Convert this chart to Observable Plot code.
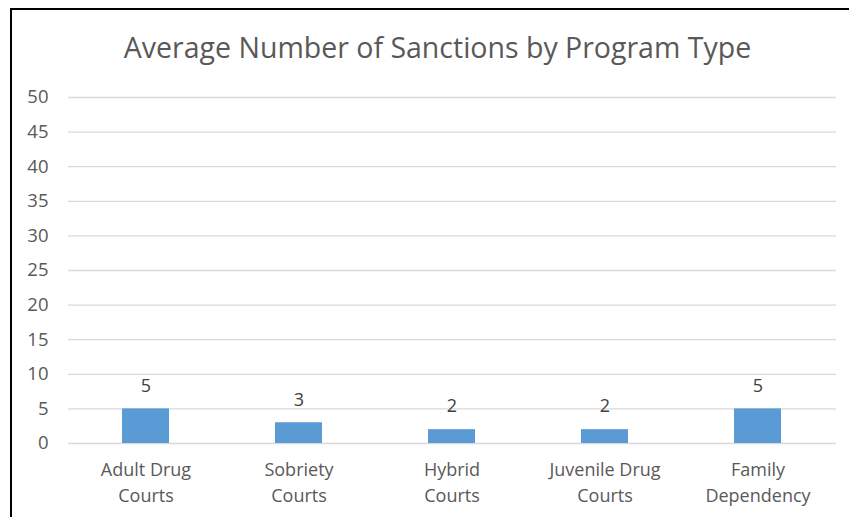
<!DOCTYPE html>
<html>
<head>
<meta charset="utf-8">
<script src="https://cdn.jsdelivr.net/npm/d3@7"></script>
<script src="https://cdn.jsdelivr.net/npm/@observablehq/plot@0.6"></script>
<style>
  html, body { margin: 0; padding: 0; background: #fff; }
  #wrap { position: relative; width: 849px; height: 517px; overflow: hidden; }
  #frame { position: absolute; left: 10px; top: 8px; width: 900px; height: 600px; border-left: 2.5px solid #000; border-top: 2.5px solid #000; box-sizing: border-box; }
  #title { position: absolute; left: 0; width: 875px; top: 28px; text-align: center; font-family: "Open Sans", sans-serif; font-size: 28.5px; color: #595959; line-height: 38px; }
  #chart { position: absolute; left: 0; top: 0; }
</style>
</head>
<body>
<div id="wrap">
  <div id="frame"></div>
  <div id="title">Average Number of Sanctions by Program Type</div>
  <div id="chart"></div>
</div>
<script>
const categories = ["Adult Drug Courts", "Sobriety Courts", "Hybrid Courts", "Juvenile Drug Courts", "Family Dependency"];
const tickLabels = ["Adult Drug\nCourts", "Sobriety\nCourts", "Hybrid\nCourts", "Juvenile Drug\nCourts", "Family\nDependency"];
const values = [5, 3, 2, 2, 5];
const yTicks = [0, 5, 10, 15, 20, 25, 30, 35, 40, 45, 50];

const data = categories.map((c, i) => ({category: c, value: values[i]}));
const labelOf = new Map(categories.map((c, i) => [c, tickLabels[i]]));

const chart = Plot.plot({
  width: 849,
  height: 517,
  marginTop: 97,
  marginBottom: 74,
  marginLeft: 68,
  marginRight: 13,
  style: {fontFamily: "'Open Sans', sans-serif", fontSize: "18px", color: "#595959", background: "transparent", overflow: "visible"},
  x: {domain: categories, paddingInner: 0.69, paddingOuter: 0.345, align: 0.5},
  y: {domain: [0, 50]},
  marks: [
    Plot.gridY(yTicks, {stroke: "#d9d9d9", strokeOpacity: 1, strokeWidth: 1.3}),
    Plot.barY(data, {x: "category", y: "value", fill: "#5b9bd5"}),
    Plot.text(data, {x: "category", y: "value", text: d => String(d.value), dy: -23, fill: "#404040", fontSize: 18}),
    Plot.axisY(yTicks, {tickSize: 0, tickPadding: 20, label: null, fill: "#595959", fontSize: 18.5}),
    Plot.axisX({tickSize: 0, tickPadding: 14, label: null, tickFormat: c => labelOf.get(c), lineHeight: 1.45, fill: "#595959", fontSize: 18})
  ]
});
document.getElementById("chart").appendChild(chart);
</script>
</body>
</html>
